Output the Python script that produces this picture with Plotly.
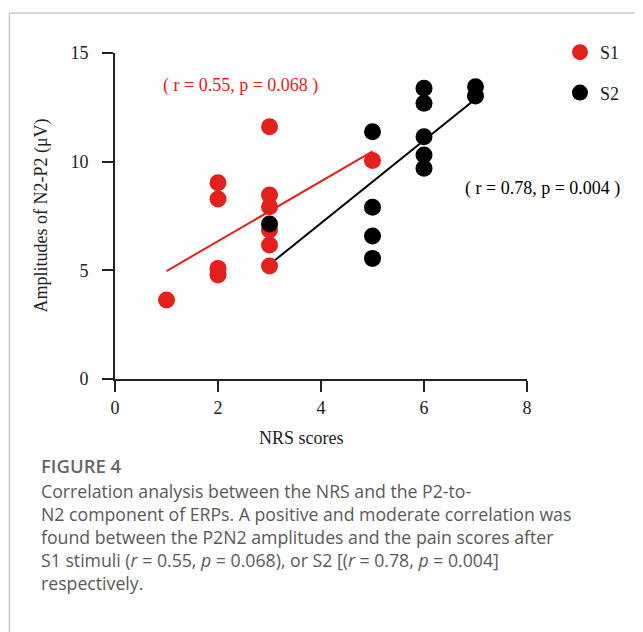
import numpy as np
import plotly.graph_objects as go

# ---- data ----
s1_nrs = [1, 2, 2, 2, 2, 3, 3, 3, 3, 3, 3, 5]
s1_amp = [3.64, 9.03, 8.28, 5.09, 4.79, 11.61, 8.47, 7.93, 6.86, 6.17, 5.20, 10.05]
s2_nrs = [3, 5, 5, 5, 5, 6, 6, 6, 6, 6, 7, 7]
s2_amp = [7.13, 11.38, 7.90, 6.58, 5.55, 13.38, 12.69, 11.15, 10.31, 9.70, 13.45, 13.02]
x_ticks = [0, 2, 4, 6, 8]
y_ticks = [0, 5, 10, 15]
s1_label = "( r = 0.55, p = 0.068 )"
s2_label = "( r = 0.78, p = 0.004 )"
caption_title = "FIGURE 4"
caption_lines = [
    "Correlation analysis between the NRS and the P2-to-",
    "N2 component of ERPs. A positive and moderate correlation was",
    "found between the P2N2 amplitudes and the pain scores after",
    "S1 stimuli (<i>r</i> = 0.55, <i>p</i> = 0.068), or S2 [(<i>r</i> = 0.78, <i>p</i> = 0.004]",
    "respectively.",
]

RED = "#e3211c"
BLACK = "#000000"
SERIF = "Liberation Serif, Times New Roman, serif"

# page geometry (the page body has an 8px margin)
OFF = 8
PW, PH = 643, 632
L, R, T, B = 114.5, 527, 53, 379   # plot area in page pixels


def px(xp):
    return (xp - L) / (R - L)


def py(yp):
    return (B - yp) / (B - T)


def fit(xs, ys):
    k, b = np.polyfit(xs, ys, 1)
    x0, x1 = min(xs), max(xs)
    return [x0, x1], [k * x0 + b, k * x1 + b]


fig = go.Figure()

fx, fy = fit(s1_nrs, s1_amp)
fig.add_trace(go.Scatter(x=fx, y=fy, mode="lines", line=dict(color=RED, width=2),
                         showlegend=False, hoverinfo="skip"))
fx, fy = fit(s2_nrs, s2_amp)
fig.add_trace(go.Scatter(x=fx, y=fy, mode="lines", line=dict(color=BLACK, width=2),
                         showlegend=False, hoverinfo="skip"))

fig.add_trace(go.Scatter(x=s1_nrs, y=s1_amp, mode="markers", name="S1", legendgroup="a",
                         marker=dict(color=RED, size=17, line=dict(width=0))))
fig.add_trace(go.Scatter(x=s2_nrs, y=s2_amp, mode="markers", name="S2", legendgroup="b",
                         marker=dict(color=BLACK, size=17, line=dict(width=0))))

axis_common = dict(showline=True, linecolor="#222", linewidth=2, ticks="outside",
                   ticklen=11, tickwidth=2, tickcolor="#222", showgrid=False,
                   zeroline=False, tickfont=dict(family=SERIF, size=18, color="#222"))

fig.update_xaxes(range=[0, 8], tickvals=x_ticks, ticktext=[str(v) for v in x_ticks], **axis_common)
fig.update_yaxes(range=[0, 15], tickvals=y_ticks, ticktext=[str(v) for v in y_ticks],
                 ticklabelstandoff=10, **axis_common)


def note(text, xp, yp, font, xanchor="center", yanchor="middle", **kw):
    return dict(text=text, x=px(xp), y=py(yp), xref="paper", yref="paper",
                xanchor=xanchor, yanchor=yanchor, showarrow=False, font=font, **kw)


ann = [
    note(s1_label, 240, 85, dict(family=SERIF, size=18, color=RED)),
    note(s2_label, 543, 188, dict(family=SERIF, size=18, color=BLACK)),
    note("NRS scores", 301, 438, dict(family=SERIF, size=18, color="#222")),
    note("Amplitudes of N2-P2 (μV)", 40, 216, dict(family=SERIF, size=18, color="#222"),
         textangle=-90),
    note(caption_title, 38, 465, dict(family="Open Sans", size=18.5, color="#666", weight=600),
         xanchor="left"),
    note("<br>".join(caption_lines), 38, 476.5, dict(family="Open Sans", size=17.7, color="#595959"),
         xanchor="left", yanchor="top", align="left"),
]

shapes = [
    dict(type="line", xref="paper", yref="paper", x0=px(8.5), x1=px(643), y0=py(13), y1=py(13),
         line=dict(color="#c8c8c8", width=1.5)),
    dict(type="line", xref="paper", yref="paper", x0=px(8.75), x1=px(8.75), y0=py(13), y1=py(632),
         line=dict(color="#c8c8c8", width=1.5)),
]

fig.update_layout(
    width=PW - OFF, height=PH - OFF,
    margin=dict(l=L - OFF, r=PW - R, t=T - OFF, b=PH - B, autoexpand=False),
    paper_bgcolor="white", plot_bgcolor="white",
    annotations=ann, shapes=shapes,
    legend=dict(x=px(560), y=py(34), xanchor="left", yanchor="top",
                traceorder="grouped", tracegroupgap=14,
                font=dict(family=SERIF, size=18, color="#222"),
                bgcolor="rgba(0,0,0,0)"),
)

fig.write_html("out.html")
